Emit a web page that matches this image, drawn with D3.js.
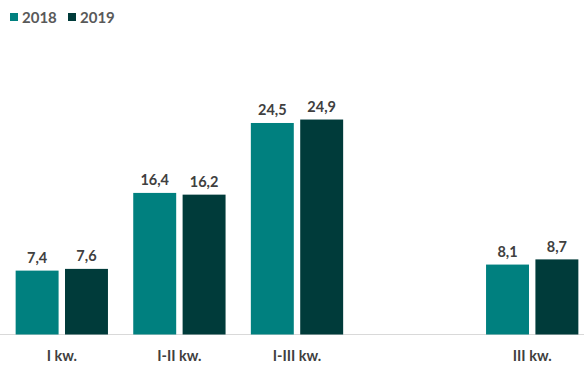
<!DOCTYPE html>
<html>
<head>
<meta charset="utf-8">
<script src="https://cdn.jsdelivr.net/npm/d3@7"></script>
<style>
  html, body { margin: 0; padding: 0; background: #fff; }
  svg { display: block; font-family: Lato, "Open Sans", sans-serif; }
</style>
</head>
<body>
<div id="chart"></div>
<script>
const categories = ["I kw.", "I-II kw.", "I-III kw.", "", "III kw."];
const seriesNames = ["2018", "2019"];
const values2018 = [7.4, 16.4, 24.5, null, 8.1];
const values2019 = [7.6, 16.2, 24.9, null, 8.7];
const colors = ["#00807f", "#003b3a"];

const width = 584, height = 365;
const baseY = 334.5;

const svg = d3.select("#chart").append("svg")
    .attr("width", width).attr("height", height);

const x0 = d3.scaleBand().domain(categories.map((c, i) => i)).range([3, 591]).paddingInner(0.215).paddingOuter(0.1075);
const x1 = d3.scaleBand().domain(seriesNames).range([0, x0.bandwidth()]).paddingInner(0.13);
const y = d3.scaleLinear().domain([0, 30]).range([baseY, 75.5]);

const data = categories.map((c, i) => ({ i, cat: c, vals: [values2018[i], values2019[i]] }));

// axis line
svg.append("line")
    .attr("x1", 0).attr("x2", width)
    .attr("y1", baseY).attr("y2", baseY)
    .attr("stroke", "#d9d9d9").attr("stroke-width", 1);

const groups = svg.selectAll(".grp").data(data).enter().append("g")
    .attr("class", "grp")
    .attr("transform", d => `translate(${x0(d.i)},0)`);

const barData = d => d.vals.map((v, k) => ({ key: seriesNames[k], v, k })).filter(e => e.v != null);

groups.selectAll("rect")
    .data(barData)
    .enter().append("rect")
    .attr("x", d => x1(d.key))
    .attr("width", x1.bandwidth())
    .attr("y", d => y(d.v))
    .attr("height", d => baseY - y(d.v))
    .attr("fill", d => colors[d.k]);

groups.selectAll(".val")
    .data(barData)
    .enter().append("text")
    .attr("class", "val")
    .attr("x", d => x1(d.key) + x1.bandwidth() / 2)
    .attr("y", d => y(d.v) - 7.5)
    .attr("text-anchor", "middle")
    .attr("font-size", 14.5).attr("font-weight", "bold")
    .attr("fill", "#404040")
    .text(d => d3.format(".1f")(d.v).replace(".", ","));

groups.append("text")
    .attr("x", x0.bandwidth() / 2)
    .attr("y", 361)
    .attr("text-anchor", "middle")
    .attr("font-size", 14.5).attr("font-weight", "bold")
    .attr("fill", "#404040")
    .text(d => d.cat);

// legend
const legend = svg.append("g");
const legX = [10, 68];
seriesNames.forEach((name, k) => {
    legend.append("rect")
        .attr("x", legX[k]).attr("y", 13)
        .attr("width", 8).attr("height", 8)
        .attr("fill", colors[k]);
    legend.append("text")
        .attr("x", legX[k] + 12).attr("y", 22.5)
        .attr("font-size", 15).attr("font-weight", "bold")
        .attr("fill", "#595959")
        .text(name);
});
</script>
</body>
</html>
